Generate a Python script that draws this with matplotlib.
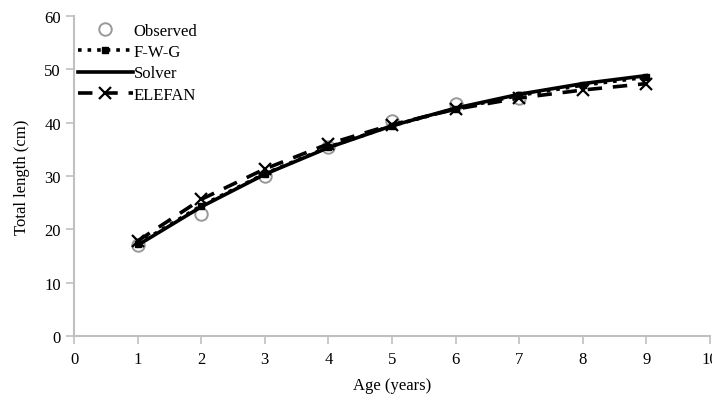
import matplotlib.pyplot as plt
import numpy as np

# Growth curve data
age = [1, 2, 3, 4, 5, 6, 7, 8, 9]
obs_age = [1, 2, 3, 4, 5, 6, 7]
observed = [17.0, 22.9, 30.0, 35.5, 40.2, 43.4, 44.6]
fwg = [17.2, 24.4, 30.4, 35.4, 39.4, 42.6, 45.1, 47.0, 48.5]
solver = [17.0, 24.2, 30.3, 35.3, 39.4, 42.7, 45.3, 47.3, 48.8]
elefan = [17.8, 25.6, 31.3, 36.0, 39.6, 42.5, 44.6, 46.1, 47.3]

plt.rcParams['font.family'] = ['Liberation Serif', 'DejaVu Serif']

fig = plt.figure(figsize=(7.12, 4.02), dpi=100)
ax = fig.add_axes([0.104, 0.162, 0.893, 0.796])

ax.plot(obs_age, observed, linestyle='none', marker='o', markersize=9,
        markerfacecolor='none', markeredgecolor='#999999', markeredgewidth=1.4,
        label='Observed')
ax.plot(age, fwg, linestyle=':', color='black', linewidth=2.6, marker='s',
        markersize=5, label='F-W-G')
ax.plot(age, solver, linestyle='-', color='black', linewidth=2.6, label='Solver')
ax.plot(age, elefan, linestyle=(0, (4, 3)), color='black', linewidth=2.6,
        marker='x', markersize=9, markeredgewidth=1.6, label='ELEFAN')

ax.set_xlim(0, 10)
ax.set_ylim(0, 60)
ax.set_xticks(np.arange(0, 11, 1))
ax.set_yticks(np.arange(0, 61, 10))
ax.set_xlabel('Age (years)', fontsize=12, labelpad=7)
ax.set_ylabel('Total length (cm)', fontsize=12, labelpad=10)

for s in ['top', 'right']:
    ax.spines[s].set_visible(False)
for s in ['left', 'bottom']:
    ax.spines[s].set_color('#c0c0c0')
    ax.spines[s].set_linewidth(1.5)
ax.tick_params(axis='both', colors='#c0c0c0', width=1.2, length=6,
               labelcolor='black', labelsize=12)
ax.tick_params(axis='x', pad=5)

leg = ax.legend(loc='upper left', bbox_to_anchor=(-0.01, 1.01), frameon=False,
                fontsize=12, handlelength=3.3, handletextpad=0.05,
                labelspacing=0.32, borderaxespad=0.2)

fig.savefig('out.png', dpi=100)
